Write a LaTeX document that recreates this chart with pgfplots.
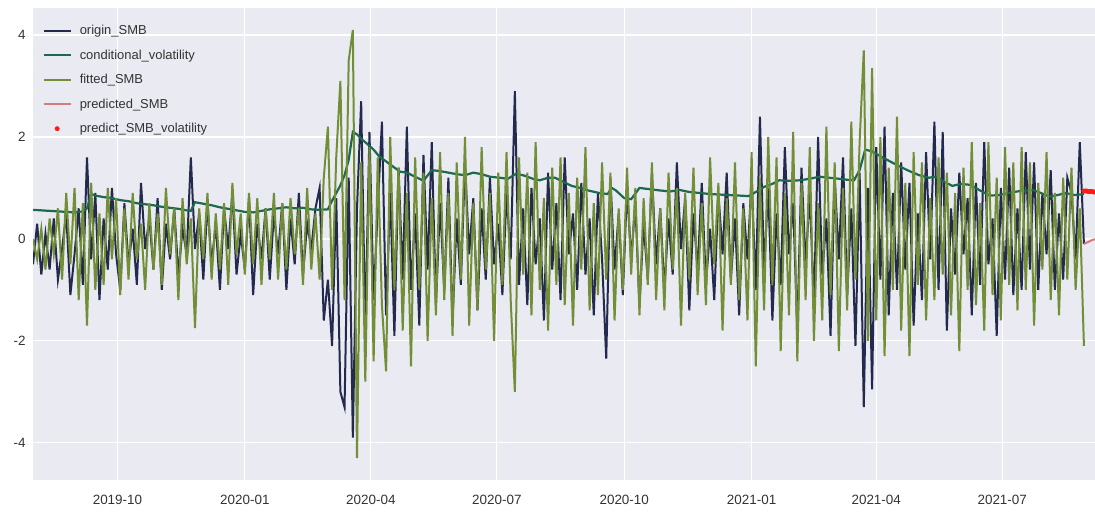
\documentclass[border=0pt]{standalone}
\usepackage{fontspec}
\setmainfont{Liberation Sans}
\usepackage{pgfplots}
\pgfplotsset{compat=1.18}
\usepackage{pgfplotstable}
\definecolor{bgc}{HTML}{EAEAF2}
\definecolor{navyc}{HTML}{232A4E}
\definecolor{cvc}{HTML}{1C6A4E}
\definecolor{olivec}{HTML}{728E36}
\definecolor{salmonc}{HTML}{D67A7C}
\definecolor{redc}{HTML}{FF1A1A}
\definecolor{tickc}{HTML}{333333}
\pgfplotstableread{
d o f
0 -0.5 0.0
3 0.3 -0.4
6 -0.7 0.2
9 0.1 -0.6
12 -0.6 0.4
15 0.4 -0.3
18 -0.8 0.6
21 -0.2 -0.8
24 0.5 0.9
27 -1.1 -0.5
30 -0.3 1.0
33 0.6 -1.2
36 -0.9 0.7
39 1.6 -1.7
42 -0.4 1.1
45 0.9 -1.0
48 -1.2 0.5
51 0.4 -0.9
54 -0.6 1.0
57 1.0 -0.4
60 -0.3 0.8
63 -1.0 -1.1
66 0.7 0.6
69 -0.5 -0.8
72 0.2 0.9
75 -0.9 -0.4
78 1.1 0.3
81 -0.2 -1.0
84 0.4 0.7
87 -0.6 -0.6
90 0.8 0.5
93 -1.0 -0.9
96 0.3 1.0
99 -0.4 -0.3
102 0.6 0.6
105 -0.7 -1.2
108 0.2 0.8
111 -0.3 -0.5
114 1.6 0.4
117 -0.2 -1.75
120 0.5 0.6
123 -0.8 -0.4
126 0.7 0.9
129 -0.5 -0.8
132 0.3 0.5
135 -1.0 -0.6
138 0.6 0.7
141 -0.2 -0.9
144 0.9 1.1
147 -0.7 -0.3
150 0.1 0.5
153 -0.6 -0.7
156 0.8 0.9
159 -1.1 -0.5
162 0.3 0.8
165 -0.4 -0.9
168 0.6 0.6
171 -0.8 -0.4
174 0.5 0.9
177 -0.3 -0.8
180 0.7 0.7
183 -1.0 -0.6
186 0.4 0.8
189 -0.5 -0.3
192 0.9 0.6
195 -0.7 -0.9
198 0.3 1.0
201 -0.2 -0.6
204 0.6 0.5
207 1.0 -0.8
210 -1.6 1.2
213 -0.8 2.2
216 -2.1 -1.0
219 0.8 1.6
222 -3.0 3.1
225 -3.3 -1.2
228 1.2 3.5
231 -3.9 4.1
234 0.6 -4.3
237 2.7 1.5
240 -1.8 -2.8
243 2.1 1.8
246 -1.2 -2.4
249 0.6 1.6
252 2.3 -1.3
255 -1.5 -2.6
258 0.9 2.0
261 -1.9 -1.0
264 1.4 1.4
267 -0.8 -1.8
270 2.2 0.9
273 -1.0 -2.5
276 0.5 1.6
279 -1.7 -1.0
282 1.65 1.3
285 -0.6 -2.0
288 1.9 0.8
291 -1.3 -1.5
294 0.7 1.7
297 -1.0 -1.2
300 1.2 0.9
303 -1.6 -1.9
306 0.4 1.5
309 -0.9 -0.8
312 1.5 2.0
315 -0.3 -1.7
318 0.8 0.7
321 -1.4 -1.4
324 0.6 1.8
327 -0.8 -0.6
330 1.2 0.9
333 -0.5 -2.0
336 0.3 1.3
339 -1.1 -0.9
342 0.9 1.7
345 -0.4 -1.2
348 2.9 -3.0
351 -0.9 1.6
354 0.6 -0.7
357 -1.3 1.3
360 1.0 -1.5
363 -0.5 1.9
366 0.4 -1.0
369 -1.6 0.8
372 1.3 -1.8
375 -0.6 1.4
378 0.7 -0.9
381 -1.2 1.6
384 1.6 -1.3
387 -0.3 0.9
390 0.5 -1.7
393 -1.0 1.2
396 1.1 -0.6
399 -0.7 1.8
402 0.4 -1.4
405 -1.5 0.7
408 0.9 -1.1
411 -0.4 1.5
414 -2.35 -0.8
417 1.2 1.3
420 -0.6 -1.6
423 0.5 0.6
426 -1.1 -1.0
429 1.0 1.4
432 -0.4 -0.7
435 0.7 1.0
438 -1.3 -1.5
441 0.3 0.8
444 -0.8 -0.9
447 1.3 1.5
450 -0.5 -1.2
453 0.6 0.6
456 -1.0 -1.4
459 0.4 1.3
462 -0.7 -0.6
465 1.5 1.0
468 -0.2 -1.7
471 0.8 0.9
474 -1.4 -0.8
477 0.5 1.4
480 -0.6 -1.1
483 1.1 0.7
486 -0.9 -1.3
489 0.2 1.6
492 -1.2 -0.5
495 0.9 1.1
498 -0.3 -1.8
501 1.3 0.8
504 -0.8 -0.9
507 0.4 1.5
510 -1.5 -1.2
513 0.7 0.6
516 -0.4 -1.6
519 1.2 1.7
522 -1.0 -2.5
525 2.4 1.2
528 -0.6 -1.4
531 1.0 2.0
534 -1.6 -0.9
537 0.5 1.6
540 -0.9 -2.2
543 1.8 0.9
546 -0.3 -1.5
549 0.7 2.1
552 -1.8 -2.4
555 1.4 1.1
558 -0.5 -1.2
561 0.9 1.8
564 -1.3 -2.0
567 2.0 0.7
570 -0.7 -1.6
573 0.4 2.2
576 -1.9 -1.1
579 1.2 1.5
582 -0.4 -2.2
585 1.6 1.0
588 -1.1 -1.4
591 0.6 2.3
594 -2.1 -0.8
597 1.3 1.9
600 -3.3 3.7
603 1.0 -2.0
606 -2.95 3.35
609 1.8 -1.6
612 -0.8 2.0
615 2.2 -2.3
618 -1.5 1.4
621 0.9 -1.0
624 -1.0 2.4
627 1.5 -1.8
630 -0.6 1.1
633 1.1 -2.3
636 -1.7 1.7
639 0.5 -0.9
642 -1.2 1.5
645 1.7 -1.6
648 -0.4 0.8
651 2.3 -1.2
654 -1.0 1.6
657 2.1 -0.7
660 -1.8 1.3
663 0.6 -1.5
666 -0.7 0.9
669 1.3 -2.2
672 -0.3 1.4
675 0.8 -1.0
678 -1.5 1.9
681 1.1 -1.3
684 -0.9 0.7
687 1.9 -1.8
690 -0.5 1.9
693 0.4 -1.1
696 -1.9 1.2
699 1.0 -1.6
702 -0.8 1.8
705 1.4 -0.9
708 -1.1 1.5
711 0.6 -1.4
714 -1.0 1.8
717 1.7 -1.0
720 -0.6 1.5
723 1.5 -1.7
726 -1.0 1.1
729 0.9 -0.6
732 -0.3 1.7
735 1.35 -1.2
738 -1.0 0.9
741 0.5 -1.5
744 -0.8 1.2
747 1.2 -0.8
750 0.9 1.4
753 -0.4 -1.0
756 1.9 0.6
759 -0.1 -2.1
}\smb
\pgfplotstableread{
d v
0 0.57
6 0.56
12 0.55
18 0.54
24 0.53
30 0.52
36 0.54
39 0.60
42 0.88
45 0.85
51 0.82
57 0.80
63 0.76
69 0.74
75 0.70
81 0.68
87 0.66
93 0.63
99 0.61
105 0.59
111 0.56
114 0.55
117 0.72
123 0.69
129 0.66
135 0.62
141 0.59
147 0.56
153 0.53
159 0.52
165 0.55
171 0.58
177 0.60
183 0.62
189 0.60
195 0.61
201 0.58
207 0.57
213 0.58
216 0.75
219 0.90
222 1.05
225 1.25
228 1.55
231 2.10
234 2.05
238 1.94
242 1.85
246 1.75
250 1.62
255 1.52
260 1.42
265 1.32
270 1.30
276 1.22
282 1.14
288 1.35
294 1.33
300 1.30
306 1.27
312 1.25
318 1.30
324 1.27
330 1.22
337 1.20
343 1.18
349 1.28
355 1.24
361 1.18
366 1.15
372 1.20
377 1.20
383 1.12
389 1.04
395 1.00
401 0.95
409 0.90
415 0.88
418 1.00
421 0.95
427 0.80
432 0.78
438 1.00
444 0.98
453 0.95
460 0.93
467 0.96
474 0.92
482 0.90
489 0.88
496 0.87
503 0.86
510 0.85
517 0.84
522 0.92
528 1.02
534 1.08
539 1.15
546 1.14
554 1.15
561 1.18
568 1.22
575 1.20
582 1.18
588 1.16
593 1.15
597 1.35
601 1.75
606 1.72
612 1.62
619 1.52
626 1.42
633 1.33
640 1.25
647 1.20
652 1.22
658 1.12
664 1.04
670 1.08
677 1.06
684 0.95
691 0.85
698 0.86
704 0.90
713 0.94
722 0.96
728 0.90
734 0.83
740 0.86
746 0.90
752 0.86
759 0.88
}\cv
\begin{document}
\begin{tikzpicture}
\begin{axis}[
  name=ax,
  scale only axis,
  width=1062bp, height=472bp,
  xmin=0, xmax=767, ymin=-4.73, ymax=4.53,
  axis background/.style={fill=bgc},
  axis line style={draw=none},
  major tick length=0pt,
  grid=major,
  grid style={white, line width=1.2bp},
  xtick={61,153,244,335,427,519,609,700},
  xticklabels={2019-10,2020-01,2020-04,2020-07,2020-10,2021-01,2021-04,2021-07},
  ytick={-4,-2,0,2,4},
  /pgf/number format/assume math mode=true,
  tick label style={font=\fontsize{13.5}{14}\selectfont, text=tickc},
  xticklabel style={yshift=-12bp},
  yticklabel style={xshift=-4bp},
  legend image code/.code={\draw[mark repeat=2,mark phase=2,#1] plot coordinates {(0bp,0bp) (13.5bp,0bp) (27bp,0bp)};},
  legend cell align=left,
  legend style={at={(0.006,0.972)}, anchor=north west, draw=none, fill=none,
    font=\fontsize{13}{13}\selectfont, text=tickc, row sep=9.6bp,
    /tikz/every odd column/.append style={column sep=6bp}},
]
\addplot[navyc, line width=2bp] table[x=d, y=o] {\smb};
\addlegendentry{origin\_SMB}
\addplot[cvc, line width=2.2bp] table[x=d, y=v] {\cv};
\addlegendentry{conditional\_volatility}
\addplot[olivec, line width=2bp] table[x=d, y=f] {\smb};
\addlegendentry{fitted\_SMB}
\addplot[salmonc, line width=2bp] coordinates {(759,-0.1) (762,-0.06) (765,-0.02) (768,0.0) (772,0.02)};
\addlegendentry{predicted\_SMB}
\addplot[only marks, mark=*, mark size=2.2bp, color=redc] coordinates {(759,0.94) (760,0.94) (761,0.94) (762,0.93) (763,0.93) (764,0.93) (765,0.93) (766,0.92) (767,0.92) (768,0.92)};
\addlegendentry{predict\_SMB\_volatility}
\end{axis}
\pgfresetboundingbox
\path ([shift={(-33bp,-32bp)}]ax.south west) rectangle ([shift={(0bp,8bp)}]ax.north east);
\end{tikzpicture}
\end{document}
